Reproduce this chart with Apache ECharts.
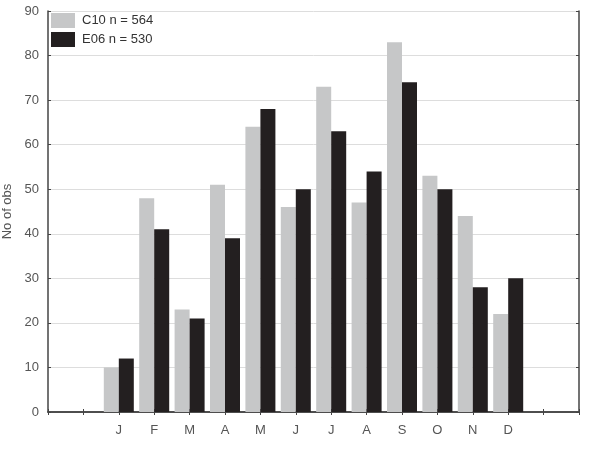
<!DOCTYPE html>
<html>
<head>
<meta charset="utf-8">
<script src="https://cdn.jsdelivr.net/npm/echarts@6/dist/echarts.min.js"></script>
<style>
  html, body { margin: 0; padding: 0; background: #fff; }
  #chart { width: 589px; height: 450px; }
</style>
</head>
<body>
<div id="chart"></div>
<script>
// monthly counts
var months = ['J', 'F', 'M', 'A', 'M', 'J', 'J', 'A', 'S', 'O', 'N', 'D'];
var c10 = [10, 48, 23, 51, 64, 46, 73, 47, 83, 53, 44, 22];
var e06 = [12, 41, 21, 39, 68, 50, 63, 54, 74, 50, 28, 30];
var yTicks = [0, 10, 20, 30, 40, 50, 60, 70, 80, 90];

// two empty slots on each side, like the original plot
var cats = ['', ''].concat(months, ['', '']);
function pad(arr) { return ['-', '-'].concat(arr, ['-', '-']); }

var frame = '#444';
var font = 'Liberation Sans';

var option = {
    animation: false,
    textStyle: { fontFamily: font },
    legend: {
        orient: 'vertical',
        left: 51, top: 13,
        itemWidth: 24, itemHeight: 15, itemGap: 4,
        icon: 'rect',
        padding: 0,
        textStyle: { fontSize: 13, color: '#333', fontFamily: font, padding: [0, 0, 0, 2] },
        data: ['C10 n = 564', 'E06 n = 530']
    },
    grid: { left: 48, right: 10, top: 11, bottom: 38, containLabel: false, outerBoundsMode: 'none' },
    xAxis: [{
        type: 'category', data: cats, boundaryGap: false,
        axisLine: { lineStyle: { color: frame, width: 1.5 } },
        axisTick: { inside: true, length: 3, lineStyle: { color: frame } },
        axisLabel: { color: '#555', fontSize: 13, margin: 12 },
        splitLine: { show: false }
    }, {
        type: 'category', data: cats, boundaryGap: false, position: 'top',
        axisLine: { lineStyle: { color: frame, width: 1.5 } },
        axisTick: { inside: true, length: 3, lineStyle: { color: frame } },
        axisLabel: { show: false }
    }],
    yAxis: [{
        type: 'value', min: yTicks[0], max: yTicks[yTicks.length - 1], interval: 10,
        name: 'No of obs', nameLocation: 'middle', nameGap: 33,
        nameTextStyle: { fontSize: 13, color: '#555' },
        axisLine: { show: true, lineStyle: { color: frame, width: 1.5 } },
        axisTick: { show: true, inside: true, length: 3, lineStyle: { color: frame } },
        axisLabel: { color: '#555', fontSize: 13, margin: 9 },
        splitLine: { show: true, lineStyle: { color: '#ddd', width: 1 } }
    }, {
        type: 'value', min: yTicks[0], max: yTicks[yTicks.length - 1], interval: 10,
        position: 'right',
        axisLine: { show: true, lineStyle: { color: frame, width: 1.5 } },
        axisTick: { show: true, inside: true, length: 3, lineStyle: { color: frame } },
        axisLabel: { show: false },
        splitLine: { show: false }
    }],
    series: [{
        name: 'C10 n = 564', type: 'bar', data: pad(c10),
        barWidth: 15, barGap: '0%',
        itemStyle: { color: '#c6c7c8' }
    }, {
        name: 'E06 n = 530', type: 'bar', data: pad(e06),
        barWidth: 15, barGap: '0%',
        itemStyle: { color: '#231f20' }
    }]
};

var chart = echarts.init(document.getElementById('chart'));
chart.setOption(option);
</script>
</body>
</html>
